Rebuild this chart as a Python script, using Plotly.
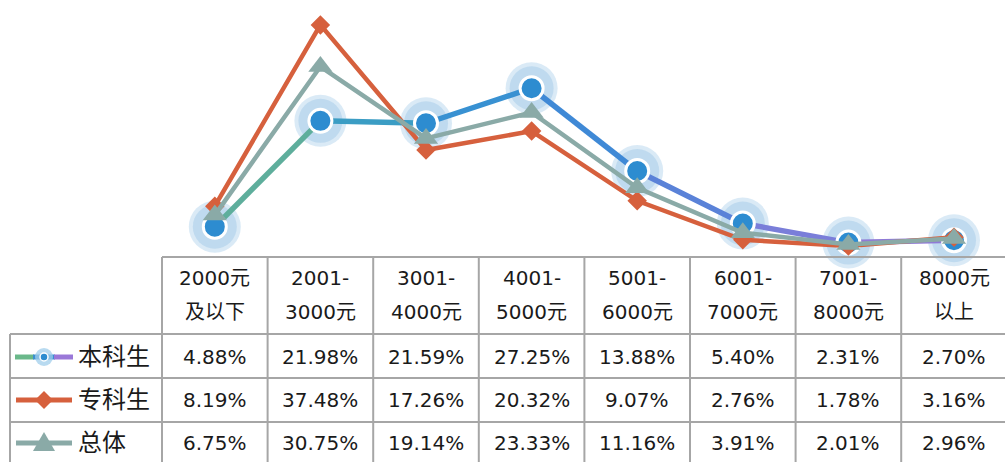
import plotly.graph_objects as go

# ---------------- data ----------------
cat_line1 = ["2000元", "2001-", "3001-", "4001-", "5001-", "6001-", "7001-", "8000元"]
cat_line2 = ["及以下", "3000元", "4000元", "5000元", "6000元", "7000元", "8000元", "以上"]
series_names = ["本科生", "专科生", "总体"]
benke = [4.88, 21.98, 21.59, 27.25, 13.88, 5.40, 2.31, 2.70]
zhuanke = [8.19, 37.48, 17.26, 20.32, 9.07, 2.76, 1.78, 3.16]
zongti = [6.75, 30.75, 19.14, 23.33, 11.16, 3.91, 2.01, 2.96]

# ---------------- layout geometry ----------------
W, H = 1005, 462
LEFT = 162.0          # left edge of first category column (px)
COLW = 105.6          # column width (px)
BASE = 256.9          # pixel row of y = 0 (top of table)
PX_PER_PCT = 6.19
GRID = "#a6a6a6"
FONT = "DejaVu Sans, Noto Sans CJK SC"
TXT = "#1a1a1a"

BLUE = "#2d8cd0"
ORANGE = "#d6603d"
GRAY = "#8aaaa7"
blue_seg_colors = ["#5eae9c", "#3b9dc4", "#3891d2", "#3f89d6", "#5a82d8", "#7a7ed9", "#8f7ad6"]


def pxx(p):
    return p / W


def pxy(p):
    return (H - p) / H


fig = go.Figure()
n = len(benke)
xs = list(range(n))

# soft halos of 本科生 markers
fig.add_trace(go.Scatter(x=xs, y=benke, mode="markers", cliponaxis=False,
                         marker=dict(size=52, color="rgba(150,195,228,0.35)", line=dict(width=0)),
                         hoverinfo="skip", showlegend=False))
fig.add_trace(go.Scatter(x=xs, y=benke, mode="markers", cliponaxis=False,
                         marker=dict(size=44, color="rgba(140,190,225,0.35)", line=dict(width=0)),
                         hoverinfo="skip", showlegend=False))
# gradient-ish 本科生 line
for i in range(n - 1):
    fig.add_trace(go.Scatter(x=xs[i:i + 2], y=benke[i:i + 2], mode="lines", cliponaxis=False,
                             line=dict(color=blue_seg_colors[i], width=5.5),
                             hoverinfo="skip", showlegend=False))
fig.add_trace(go.Scatter(x=xs, y=benke, mode="markers", name=series_names[0], cliponaxis=False,
                         marker=dict(size=23, color=BLUE, line=dict(color="white", width=3)),
                         showlegend=False))
# 专科生
fig.add_trace(go.Scatter(x=xs, y=zhuanke, mode="lines+markers", name=series_names[1], cliponaxis=False,
                         line=dict(color=ORANGE, width=4.5),
                         marker=dict(symbol="diamond", size=15, color=ORANGE),
                         showlegend=False))
# 总体
fig.add_trace(go.Scatter(x=xs, y=zongti, mode="lines+markers", name=series_names[2], cliponaxis=False,
                         line=dict(color=GRAY, width=4.5),
                         marker=dict(symbol="triangle-up", size=21, color=GRAY),
                         showlegend=False))

shapes = []
annotations = []


def hline(y, x0, x1):
    shapes.append(dict(type="line", xref="paper", yref="paper", x0=pxx(x0), x1=pxx(x1),
                       y0=pxy(y), y1=pxy(y), line=dict(color=GRID, width=2)))


def vline(x, y0, y1):
    shapes.append(dict(type="line", xref="paper", yref="paper", x0=pxx(x), x1=pxx(x),
                       y0=pxy(y0), y1=pxy(y1), line=dict(color=GRID, width=2)))


row_lines = [334, 378, 422]
hline(BASE, LEFT, W + 5)
for r in row_lines:
    hline(r, 10, W + 5)
vline(10, 334, H + 5)
for k in range(n + 1):
    vline(LEFT + COLW * k, BASE, H + 5)

# header text
for i in range(n):
    cx = pxx(LEFT + COLW * (i + 0.5))
    annotations.append(dict(xref="paper", yref="paper", x=cx, y=pxy(278), text=cat_line1[i],
                            showarrow=False, xanchor="center", yanchor="middle",
                            font=dict(family=FONT, size=20, color=TXT)))
    annotations.append(dict(xref="paper", yref="paper", x=cx, y=pxy(312), text=cat_line2[i],
                            showarrow=False, xanchor="center", yanchor="middle",
                            font=dict(family=FONT, size=20, color=TXT)))

row_y = [357, 400, 443]
for vals, ry, name in zip([benke, zhuanke, zongti], row_y, series_names):
    for i, v in enumerate(vals):
        annotations.append(dict(xref="paper", yref="paper", x=pxx(LEFT + COLW * (i + 0.5)), y=pxy(ry),
                                text=f"{v:.2f}%", showarrow=False, xanchor="center", yanchor="middle",
                                font=dict(family=FONT, size=20, color=TXT)))
    annotations.append(dict(xref="paper", yref="paper", x=pxx(76), y=pxy(ry), text=name,
                            showarrow=False, xanchor="left", yanchor="middle",
                            font=dict(family=FONT, size=24, color=TXT)))

# legend keys inside the table
for (a, b, c) in [(15, 34, "#6ab88a"), (33, 55, "#3a8fd0"), (54, 73, "#9a78d8")]:
    shapes.append(dict(type="line", xref="paper", yref="paper", x0=pxx(a), x1=pxx(b),
                       y0=pxy(357), y1=pxy(357), line=dict(color=c, width=5)))
shapes.append(dict(type="circle", xref="paper", yref="paper", x0=pxx(35), x1=pxx(53),
                   y0=pxy(348), y1=pxy(366), fillcolor="rgba(160,205,235,0.75)", line=dict(width=0)))
shapes.append(dict(type="circle", xref="paper", yref="paper", x0=pxx(40), x1=pxx(48),
                   y0=pxy(353), y1=pxy(361), fillcolor=BLUE, line=dict(color="white", width=1.5)))
shapes.append(dict(type="line", xref="paper", yref="paper", x0=pxx(16), x1=pxx(72),
                   y0=pxy(400), y1=pxy(400), line=dict(color=ORANGE, width=5)))
shapes.append(dict(type="path", xref="paper", yref="paper",
                   path=f"M {pxx(35)},{pxy(400)} L {pxx(44)},{pxy(391)} L {pxx(53)},{pxy(400)} L {pxx(44)},{pxy(409)} Z",
                   fillcolor=ORANGE, line=dict(width=0)))
shapes.append(dict(type="line", xref="paper", yref="paper", x0=pxx(16), x1=pxx(72),
                   y0=pxy(443), y1=pxy(443), line=dict(color=GRAY, width=5)))
shapes.append(dict(type="path", xref="paper", yref="paper",
                   path=f"M {pxx(33)},{pxy(451)} L {pxx(44)},{pxy(432)} L {pxx(55)},{pxy(451)} Z",
                   fillcolor=GRAY, line=dict(width=0)))

fig.update_layout(
    width=W, height=H,
    margin=dict(l=0, r=0, t=0, b=0),
    paper_bgcolor="white", plot_bgcolor="white",
    showlegend=False,
    xaxis=dict(domain=[LEFT / W, 1], range=[-0.5, -0.5 + (W - LEFT) / COLW],
               visible=False, fixedrange=True),
    yaxis=dict(domain=[(H - BASE) / H, 1], range=[0, BASE / PX_PER_PCT],
               visible=False, fixedrange=True),
    shapes=shapes,
    annotations=annotations,
)

fig.write_html("out.html", config={"displayModeBar": False},
               post_script="document.body.style.margin='0';")
